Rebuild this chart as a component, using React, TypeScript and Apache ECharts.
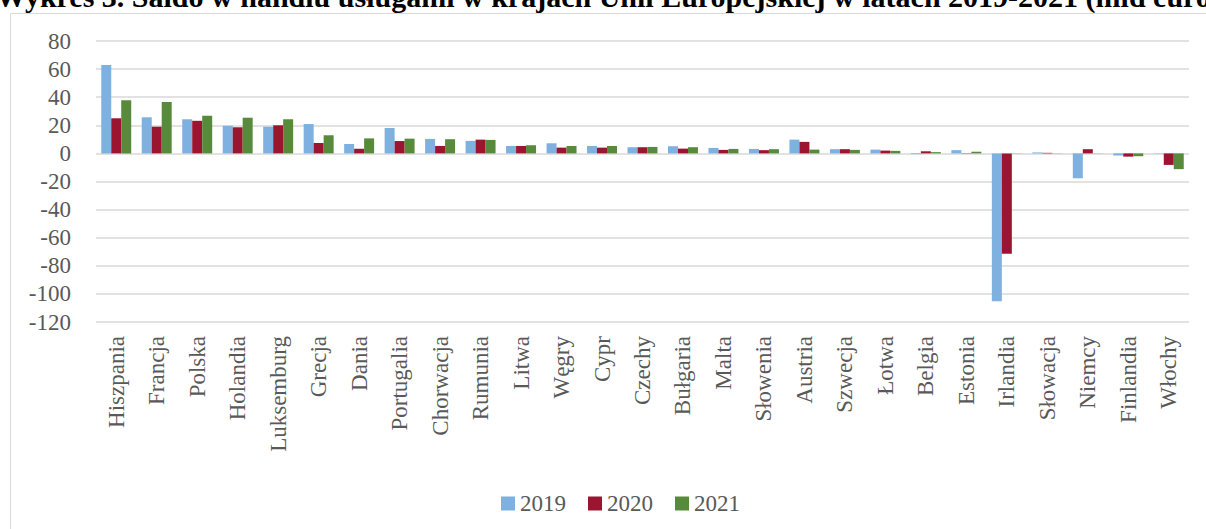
import React, { useEffect, useRef } from "react";
import * as echarts from "echarts";

const categories = [
  "Hiszpania", "Francja", "Polska", "Holandia", "Luksemburg", "Grecja", "Dania",
  "Portugalia", "Chorwacja", "Rumunia", "Litwa", "Węgry", "Cypr", "Czechy",
  "Bułgaria", "Malta", "Słowenia", "Austria", "Szwecja", "Łotwa", "Belgia",
  "Estonia", "Irlandia", "Słowacja", "Niemcy", "Finlandia", "Włochy",
];

const seriesNames = ["2019", "2020", "2021"];

const values2019 = [63.0, 25.7, 24.3, 19.7, 19.0, 20.9, 6.7, 18.1, 10.3, 8.9, 5.3, 7.2, 5.3, 4.4, 5.1, 3.9, 3.2, 9.8, 3.0, 2.7, -0.5, 2.3, -105.3, 0.7, -17.7, -1.5, -0.2];
const values2020 = [25.0, 19.0, 23.2, 18.6, 20.0, 7.4, 3.3, 8.8, 5.3, 9.8, 5.3, 4.1, 4.1, 4.4, 3.4, 2.5, 2.3, 8.2, 3.0, 2.0, 1.5, 0.2, -71.4, 0.4, 3.0, -2.3, -8.2];
const values2021 = [37.8, 36.6, 26.8, 25.4, 24.3, 12.9, 10.7, 10.5, 10.1, 9.6, 5.8, 5.3, 5.3, 4.6, 4.4, 3.2, 3.0, 2.7, 2.5, 1.8, 0.9, 1.2, 0.1, 0.1, 0.1, -2.0, -11.2];

const titleText =
  "Wykres 3. Saldo w handlu usługami w krajach Unii Europejskiej w latach 2019-2021 (mld euro)";

const colors = ["#7EB0E0", "#9B1531", "#578A3B"];
const FONT = "Liberation Serif";

export default function App() {
  const ref = useRef<HTMLDivElement>(null);

  useEffect(() => {
    if (!ref.current) return;
    const chart = echarts.init(ref.current, undefined, { renderer: "svg" });
    const data = [values2019, values2020, values2021];
    chart.setOption({
      animation: false,
      textStyle: { fontFamily: FONT },
      color: colors,
      graphic: [
        {
          type: "rect",
          silent: true,
          z: -10,
          shape: { x: 10.5, y: 13.5, width: 1300, height: 600 },
          style: { fill: "none", stroke: "#D9D9D9", lineWidth: 1 },
        },
        {
          type: "text",
          silent: true,
          x: -4,
          y: -4,
          style: {
            text: titleText,
            fontFamily: FONT,
            fontWeight: "bold",
            fontSize: 30,
            fill: "#000000",
            verticalAlign: "middle",
          },
        },
      ],
      grid: { left: 96, right: 17, top: 41, bottom: 207, containLabel: false },
      legend: {
        data: seriesNames,
        left: 496,
        top: 487,
        icon: "rect",
        itemWidth: 14,
        itemHeight: 14,
        itemGap: 22,
        textStyle: { fontSize: 23, color: "#595959", fontFamily: FONT },
      },
      xAxis: {
        type: "category",
        data: categories,
        axisLine: { show: false, onZero: false },
        axisTick: { show: false },
        axisLabel: {
          rotate: 90,
          interval: 0,
          margin: 14,
          fontSize: 23,
          color: "#595959",
          fontFamily: FONT,
        },
      },
      yAxis: {
        type: "value",
        min: -120,
        max: 80,
        interval: 20,
        axisLine: { show: false },
        axisTick: { show: false },
        axisLabel: { fontSize: 23, color: "#595959", margin: 25, fontFamily: FONT },
        splitLine: { lineStyle: { color: "#D9D9D9", width: 1.5 } },
      },
      series: seriesNames.map((name, i) => ({
        name,
        type: "bar",
        data: data[i],
        barGap: "0%",
        barCategoryGap: "26%",
        itemStyle: { color: colors[i] },
      })),
    });
    return () => chart.dispose();
  }, []);

  return (
    <div
      ref={ref}
      style={{ position: "absolute", left: 0, top: 0, width: 1206, height: 529, background: "#fff" }}
    />
  );
}
